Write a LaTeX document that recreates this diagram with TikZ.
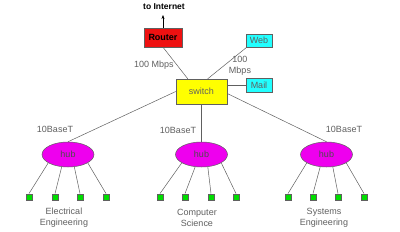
\documentclass[tikz,border=0pt]{standalone}
\usepackage{fontspec}
\setmainfont{Liberation Sans}
\usetikzlibrary{shapes.geometric,arrows.meta}
\definecolor{txt}{HTML}{606060}
\definecolor{ln}{HTML}{606060}
\definecolor{rred}{HTML}{EE1111}
\definecolor{ccyan}{HTML}{22FFFF}
\definecolor{yy}{HTML}{FFFF00}
\definecolor{mag}{HTML}{EE00EE}
\definecolor{gg}{HTML}{00DD00}
\tikzset{
  every node/.style={font=\fontsize{9}{11}\selectfont, text=txt, inner sep=0pt},
  box/.style={draw=ln, line width=0.5pt, minimum width=#1},
  hubnode/.style={ellipse, draw=ln, fill=mag, line width=0.5pt, minimum width=52pt, minimum height=25pt, text=black!70},
  pc/.style={draw=ln, fill=gg, line width=0.4pt, minimum width=6.5pt, minimum height=6.5pt},
  conn/.style={draw=ln, line width=0.5pt},
  lbl/.style={align=center, text=txt}
}
\begin{document}
\begin{tikzpicture}[x=1pt,y=-1pt]
\useasboundingbox (0,0) rectangle (400,231);
\fill[white] (0,0) rectangle (400,231);
% top nodes
\node[box=38pt, fill=rred, minimum height=19pt, text=black, font=\fontsize{9}{11}\selectfont\bfseries] (router) at (163,37.5) {Router};
\node[text=black, font=\fontsize{8.5}{10}\selectfont\bfseries] (inettxt) at (164,7) {to Internet};
\coordinate (inet) at (163,15);
\node[box=26pt, fill=ccyan, minimum height=13pt] (web) at (259,40.5) {Web};
\node[box=26pt, fill=ccyan, minimum height=14pt] (mail) at (259,85) {Mail};
\node[box=51pt, fill=yy, minimum height=25pt] (switch) at (201.5,91.5) {switch};
% hubs
\node[hubnode] (hub1) at (68,154.5) {hub};
\node[hubnode] (hub2) at (201.5,154.5) {hub};
\node[hubnode] (hub3) at (326.5,154.5) {hub};
% pcs
\foreach \i/\x in {1/29,2/55,3/80,4/106}{\node[pc] (pa\i) at (\x,197) {};}
\foreach \i/\x in {1/160,2/185,3/211,4/236}{\node[pc] (pb\i) at (\x,197) {};}
\foreach \i/\x in {1/288,2/313,3/338,4/364}{\node[pc] (pc\i) at (\x,197) {};}
% connectors
\draw[conn, -{Stealth[length=4pt,width=3pt]}, draw=black] (router.north) -- (inet);
\draw[conn] (router.south) -- ([xshift=12pt]switch.north west);
\draw[conn] ([xshift=1pt]web.south west) -- ([xshift=32pt]switch.north west);
\draw[conn] (mail.west) -- (mail.west -| switch.east);
\draw[conn] (hub1.north) -- (switch.west);
\draw[conn] (switch.south) -- (hub2.north);
\draw[conn] (hub3.north) -- ([yshift=-2pt]switch.east);
\foreach \h/\p in {hub1/pa,hub2/pb,hub3/pc}{
  \draw[conn] (\p1.north) -- (\h.203);
  \draw[conn] (\p2.north) -- (\h.243);
  \draw[conn] (\p3.north) -- (\h.297);
  \draw[conn] (\p4.north) -- (\h.337);
}
% labels
\node[lbl] (l1) at (154,65) {100 Mbps};
\node[lbl] (l2) at (240,66) {100\\Mbps};
\node[lbl] (b1) at (55,129) {10BaseT};
\node[lbl] (b2) at (178,130) {10BaseT};
\node[lbl] (b3) at (344,129) {10BaseT};
\node[lbl] (d1) at (64,218) {Electrical\\Engineering};
\node[lbl] (d2) at (197,218) {Computer\\Science};
\node[lbl] (d3) at (324,218) {Systems\\Engineering};
\end{tikzpicture}
\end{document}
